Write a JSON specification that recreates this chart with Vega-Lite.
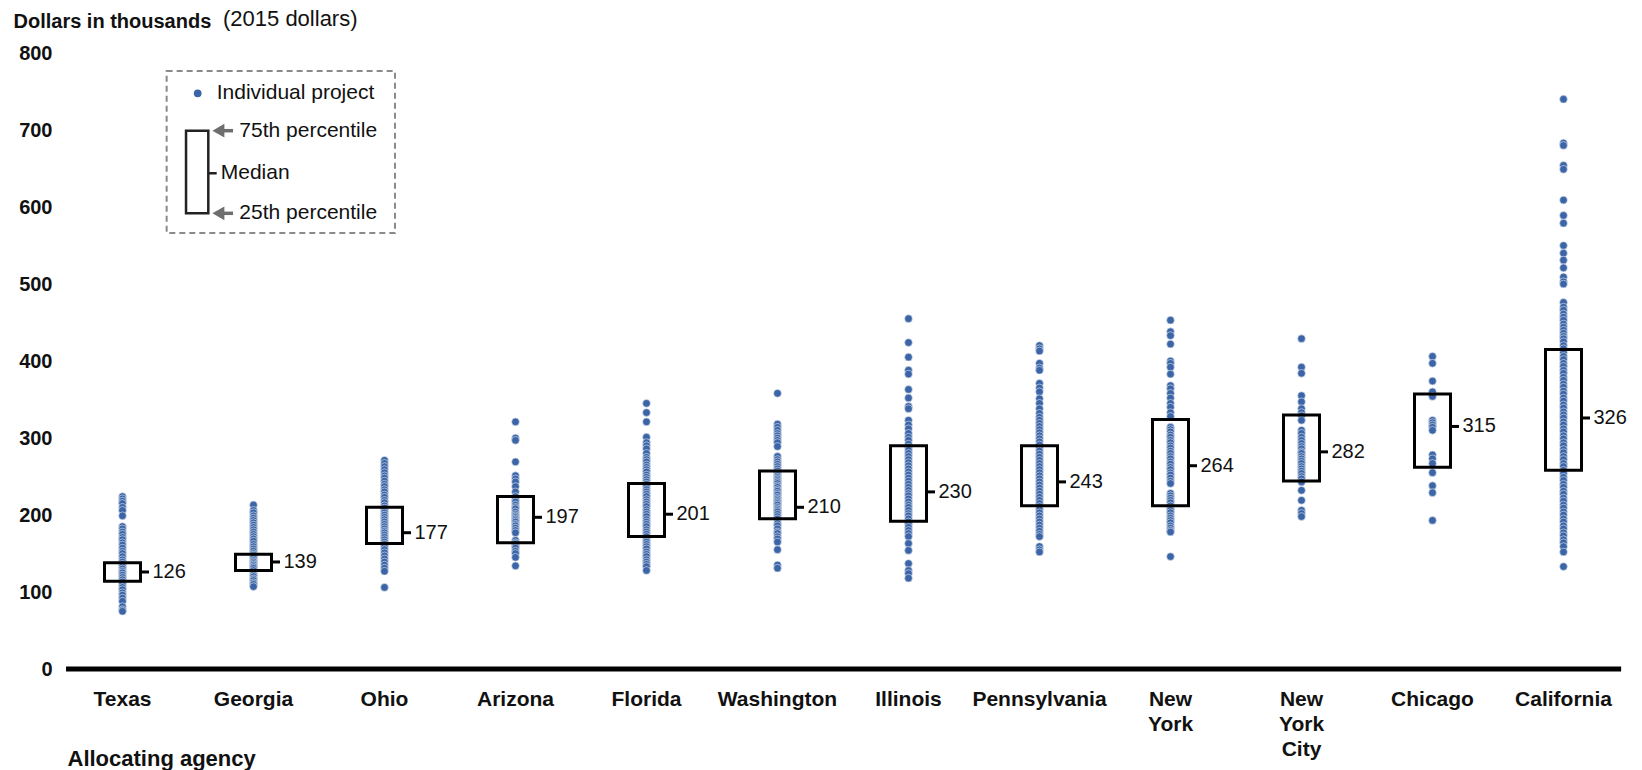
{
  "$schema": "https://vega.github.io/schema/vega-lite/v6.json",
  "width": 1572,
  "height": 616,
  "autosize": {"type": "none"},
  "padding": {"left": 57, "top": 53, "right": 13, "bottom": 101},
  "background": "white",
  "config": {"view": {"stroke": null}, "font": "Liberation Sans"},
  "title": {"text": "(2015 dollars)", "anchor": "start", "frame": "group", "dx": 166, "offset": -20, "fontSize": 22, "fontWeight": "normal", "color": "#111111", "font": "Liberation Sans"},
  "datasets": {
    "projects": [
      {"agency": "Texas", "value": 224}, {"agency": "Texas", "value": 221}, {"agency": "Texas", "value": 218}, {"agency": "Texas", "value": 215}, {"agency": "Texas", "value": 210}, {"agency": "Texas", "value": 206}, {"agency": "Texas", "value": 199}, {"agency": "Texas", "value": 185}, {"agency": "Texas", "value": 182}, {"agency": "Texas", "value": 178}, {"agency": "Texas", "value": 175}, {"agency": "Texas", "value": 171}, {"agency": "Texas", "value": 168}, {"agency": "Texas", "value": 164}, {"agency": "Texas", "value": 161}, {"agency": "Texas", "value": 157}, {"agency": "Texas", "value": 153}, {"agency": "Texas", "value": 150}, {"agency": "Texas", "value": 146}, {"agency": "Texas", "value": 142}, {"agency": "Texas", "value": 139}, {"agency": "Texas", "value": 136}, {"agency": "Texas", "value": 133}, {"agency": "Texas", "value": 130}, {"agency": "Texas", "value": 127}, {"agency": "Texas", "value": 125}, {"agency": "Texas", "value": 122}, {"agency": "Texas", "value": 119}, {"agency": "Texas", "value": 116}, {"agency": "Texas", "value": 113}, {"agency": "Texas", "value": 110}, {"agency": "Texas", "value": 106}, {"agency": "Texas", "value": 103}, {"agency": "Texas", "value": 99}, {"agency": "Texas", "value": 96}, {"agency": "Texas", "value": 92}, {"agency": "Texas", "value": 88}, {"agency": "Texas", "value": 81}, {"agency": "Texas", "value": 77}, {"agency": "Texas", "value": 75},
      {"agency": "Georgia", "value": 213}, {"agency": "Georgia", "value": 206}, {"agency": "Georgia", "value": 203}, {"agency": "Georgia", "value": 199}, {"agency": "Georgia", "value": 196}, {"agency": "Georgia", "value": 193}, {"agency": "Georgia", "value": 190}, {"agency": "Georgia", "value": 187}, {"agency": "Georgia", "value": 184}, {"agency": "Georgia", "value": 181}, {"agency": "Georgia", "value": 178}, {"agency": "Georgia", "value": 175}, {"agency": "Georgia", "value": 172}, {"agency": "Georgia", "value": 169}, {"agency": "Georgia", "value": 166}, {"agency": "Georgia", "value": 162}, {"agency": "Georgia", "value": 159}, {"agency": "Georgia", "value": 156}, {"agency": "Georgia", "value": 153}, {"agency": "Georgia", "value": 150}, {"agency": "Georgia", "value": 148}, {"agency": "Georgia", "value": 146}, {"agency": "Georgia", "value": 144}, {"agency": "Georgia", "value": 141}, {"agency": "Georgia", "value": 139}, {"agency": "Georgia", "value": 137}, {"agency": "Georgia", "value": 135}, {"agency": "Georgia", "value": 133}, {"agency": "Georgia", "value": 131}, {"agency": "Georgia", "value": 128}, {"agency": "Georgia", "value": 125}, {"agency": "Georgia", "value": 122}, {"agency": "Georgia", "value": 120}, {"agency": "Georgia", "value": 117}, {"agency": "Georgia", "value": 115}, {"agency": "Georgia", "value": 112}, {"agency": "Georgia", "value": 110}, {"agency": "Georgia", "value": 107},
      {"agency": "Ohio", "value": 271}, {"agency": "Ohio", "value": 267}, {"agency": "Ohio", "value": 263}, {"agency": "Ohio", "value": 259}, {"agency": "Ohio", "value": 255}, {"agency": "Ohio", "value": 251}, {"agency": "Ohio", "value": 248}, {"agency": "Ohio", "value": 244}, {"agency": "Ohio", "value": 240}, {"agency": "Ohio", "value": 237}, {"agency": "Ohio", "value": 233}, {"agency": "Ohio", "value": 230}, {"agency": "Ohio", "value": 226}, {"agency": "Ohio", "value": 223}, {"agency": "Ohio", "value": 219}, {"agency": "Ohio", "value": 216}, {"agency": "Ohio", "value": 212}, {"agency": "Ohio", "value": 209}, {"agency": "Ohio", "value": 206}, {"agency": "Ohio", "value": 203}, {"agency": "Ohio", "value": 200}, {"agency": "Ohio", "value": 197}, {"agency": "Ohio", "value": 194}, {"agency": "Ohio", "value": 191}, {"agency": "Ohio", "value": 188}, {"agency": "Ohio", "value": 185}, {"agency": "Ohio", "value": 182}, {"agency": "Ohio", "value": 179}, {"agency": "Ohio", "value": 177}, {"agency": "Ohio", "value": 174}, {"agency": "Ohio", "value": 171}, {"agency": "Ohio", "value": 168}, {"agency": "Ohio", "value": 165}, {"agency": "Ohio", "value": 162}, {"agency": "Ohio", "value": 159}, {"agency": "Ohio", "value": 155}, {"agency": "Ohio", "value": 151}, {"agency": "Ohio", "value": 147}, {"agency": "Ohio", "value": 143}, {"agency": "Ohio", "value": 139}, {"agency": "Ohio", "value": 135}, {"agency": "Ohio", "value": 131}, {"agency": "Ohio", "value": 127}, {"agency": "Ohio", "value": 106},
      {"agency": "Arizona", "value": 321}, {"agency": "Arizona", "value": 300}, {"agency": "Arizona", "value": 297}, {"agency": "Arizona", "value": 269}, {"agency": "Arizona", "value": 251}, {"agency": "Arizona", "value": 247}, {"agency": "Arizona", "value": 243}, {"agency": "Arizona", "value": 237}, {"agency": "Arizona", "value": 230}, {"agency": "Arizona", "value": 224}, {"agency": "Arizona", "value": 220}, {"agency": "Arizona", "value": 217}, {"agency": "Arizona", "value": 213}, {"agency": "Arizona", "value": 210}, {"agency": "Arizona", "value": 208}, {"agency": "Arizona", "value": 204}, {"agency": "Arizona", "value": 201}, {"agency": "Arizona", "value": 199}, {"agency": "Arizona", "value": 197}, {"agency": "Arizona", "value": 195}, {"agency": "Arizona", "value": 193}, {"agency": "Arizona", "value": 191}, {"agency": "Arizona", "value": 188}, {"agency": "Arizona", "value": 186}, {"agency": "Arizona", "value": 183}, {"agency": "Arizona", "value": 180}, {"agency": "Arizona", "value": 177}, {"agency": "Arizona", "value": 167}, {"agency": "Arizona", "value": 164}, {"agency": "Arizona", "value": 162}, {"agency": "Arizona", "value": 159}, {"agency": "Arizona", "value": 157}, {"agency": "Arizona", "value": 153}, {"agency": "Arizona", "value": 150}, {"agency": "Arizona", "value": 145}, {"agency": "Arizona", "value": 134},
      {"agency": "Florida", "value": 345}, {"agency": "Florida", "value": 333}, {"agency": "Florida", "value": 321}, {"agency": "Florida", "value": 301}, {"agency": "Florida", "value": 294}, {"agency": "Florida", "value": 290}, {"agency": "Florida", "value": 286}, {"agency": "Florida", "value": 280}, {"agency": "Florida", "value": 275}, {"agency": "Florida", "value": 272}, {"agency": "Florida", "value": 269}, {"agency": "Florida", "value": 265}, {"agency": "Florida", "value": 262}, {"agency": "Florida", "value": 259}, {"agency": "Florida", "value": 256}, {"agency": "Florida", "value": 252}, {"agency": "Florida", "value": 249}, {"agency": "Florida", "value": 246}, {"agency": "Florida", "value": 243}, {"agency": "Florida", "value": 240}, {"agency": "Florida", "value": 237}, {"agency": "Florida", "value": 233}, {"agency": "Florida", "value": 230}, {"agency": "Florida", "value": 227}, {"agency": "Florida", "value": 224}, {"agency": "Florida", "value": 220}, {"agency": "Florida", "value": 217}, {"agency": "Florida", "value": 214}, {"agency": "Florida", "value": 211}, {"agency": "Florida", "value": 207}, {"agency": "Florida", "value": 204}, {"agency": "Florida", "value": 201}, {"agency": "Florida", "value": 198}, {"agency": "Florida", "value": 194}, {"agency": "Florida", "value": 191}, {"agency": "Florida", "value": 188}, {"agency": "Florida", "value": 185}, {"agency": "Florida", "value": 181}, {"agency": "Florida", "value": 178}, {"agency": "Florida", "value": 175}, {"agency": "Florida", "value": 172}, {"agency": "Florida", "value": 168}, {"agency": "Florida", "value": 165}, {"agency": "Florida", "value": 162}, {"agency": "Florida", "value": 159}, {"agency": "Florida", "value": 156}, {"agency": "Florida", "value": 152}, {"agency": "Florida", "value": 149}, {"agency": "Florida", "value": 146}, {"agency": "Florida", "value": 142}, {"agency": "Florida", "value": 139}, {"agency": "Florida", "value": 136}, {"agency": "Florida", "value": 133}, {"agency": "Florida", "value": 128},
      {"agency": "Washington", "value": 358}, {"agency": "Washington", "value": 318}, {"agency": "Washington", "value": 314}, {"agency": "Washington", "value": 310}, {"agency": "Washington", "value": 306}, {"agency": "Washington", "value": 303}, {"agency": "Washington", "value": 300}, {"agency": "Washington", "value": 297}, {"agency": "Washington", "value": 294}, {"agency": "Washington", "value": 289}, {"agency": "Washington", "value": 276}, {"agency": "Washington", "value": 272}, {"agency": "Washington", "value": 269}, {"agency": "Washington", "value": 266}, {"agency": "Washington", "value": 263}, {"agency": "Washington", "value": 260}, {"agency": "Washington", "value": 257}, {"agency": "Washington", "value": 254}, {"agency": "Washington", "value": 251}, {"agency": "Washington", "value": 249}, {"agency": "Washington", "value": 247}, {"agency": "Washington", "value": 245}, {"agency": "Washington", "value": 243}, {"agency": "Washington", "value": 241}, {"agency": "Washington", "value": 238}, {"agency": "Washington", "value": 236}, {"agency": "Washington", "value": 233}, {"agency": "Washington", "value": 231}, {"agency": "Washington", "value": 228}, {"agency": "Washington", "value": 226}, {"agency": "Washington", "value": 223}, {"agency": "Washington", "value": 221}, {"agency": "Washington", "value": 219}, {"agency": "Washington", "value": 217}, {"agency": "Washington", "value": 215}, {"agency": "Washington", "value": 213}, {"agency": "Washington", "value": 210}, {"agency": "Washington", "value": 208}, {"agency": "Washington", "value": 206}, {"agency": "Washington", "value": 204}, {"agency": "Washington", "value": 201}, {"agency": "Washington", "value": 198}, {"agency": "Washington", "value": 195}, {"agency": "Washington", "value": 189}, {"agency": "Washington", "value": 186}, {"agency": "Washington", "value": 182}, {"agency": "Washington", "value": 178}, {"agency": "Washington", "value": 176}, {"agency": "Washington", "value": 172}, {"agency": "Washington", "value": 169}, {"agency": "Washington", "value": 165}, {"agency": "Washington", "value": 155}, {"agency": "Washington", "value": 135}, {"agency": "Washington", "value": 131},
      {"agency": "Illinois", "value": 455}, {"agency": "Illinois", "value": 424}, {"agency": "Illinois", "value": 405}, {"agency": "Illinois", "value": 388}, {"agency": "Illinois", "value": 383}, {"agency": "Illinois", "value": 363}, {"agency": "Illinois", "value": 352}, {"agency": "Illinois", "value": 341}, {"agency": "Illinois", "value": 338}, {"agency": "Illinois", "value": 323}, {"agency": "Illinois", "value": 317}, {"agency": "Illinois", "value": 312}, {"agency": "Illinois", "value": 306}, {"agency": "Illinois", "value": 301}, {"agency": "Illinois", "value": 297}, {"agency": "Illinois", "value": 292}, {"agency": "Illinois", "value": 288}, {"agency": "Illinois", "value": 284}, {"agency": "Illinois", "value": 280}, {"agency": "Illinois", "value": 276}, {"agency": "Illinois", "value": 272}, {"agency": "Illinois", "value": 268}, {"agency": "Illinois", "value": 264}, {"agency": "Illinois", "value": 260}, {"agency": "Illinois", "value": 256}, {"agency": "Illinois", "value": 252}, {"agency": "Illinois", "value": 248}, {"agency": "Illinois", "value": 244}, {"agency": "Illinois", "value": 240}, {"agency": "Illinois", "value": 236}, {"agency": "Illinois", "value": 232}, {"agency": "Illinois", "value": 228}, {"agency": "Illinois", "value": 225}, {"agency": "Illinois", "value": 221}, {"agency": "Illinois", "value": 217}, {"agency": "Illinois", "value": 213}, {"agency": "Illinois", "value": 210}, {"agency": "Illinois", "value": 206}, {"agency": "Illinois", "value": 202}, {"agency": "Illinois", "value": 199}, {"agency": "Illinois", "value": 195}, {"agency": "Illinois", "value": 191}, {"agency": "Illinois", "value": 188}, {"agency": "Illinois", "value": 184}, {"agency": "Illinois", "value": 180}, {"agency": "Illinois", "value": 176}, {"agency": "Illinois", "value": 172}, {"agency": "Illinois", "value": 163}, {"agency": "Illinois", "value": 154}, {"agency": "Illinois", "value": 137}, {"agency": "Illinois", "value": 128}, {"agency": "Illinois", "value": 124}, {"agency": "Illinois", "value": 118},
      {"agency": "Pennsylvania", "value": 420}, {"agency": "Pennsylvania", "value": 416}, {"agency": "Pennsylvania", "value": 413}, {"agency": "Pennsylvania", "value": 397}, {"agency": "Pennsylvania", "value": 391}, {"agency": "Pennsylvania", "value": 388}, {"agency": "Pennsylvania", "value": 371}, {"agency": "Pennsylvania", "value": 365}, {"agency": "Pennsylvania", "value": 360}, {"agency": "Pennsylvania", "value": 351}, {"agency": "Pennsylvania", "value": 345}, {"agency": "Pennsylvania", "value": 338}, {"agency": "Pennsylvania", "value": 332}, {"agency": "Pennsylvania", "value": 327}, {"agency": "Pennsylvania", "value": 323}, {"agency": "Pennsylvania", "value": 319}, {"agency": "Pennsylvania", "value": 315}, {"agency": "Pennsylvania", "value": 311}, {"agency": "Pennsylvania", "value": 307}, {"agency": "Pennsylvania", "value": 303}, {"agency": "Pennsylvania", "value": 299}, {"agency": "Pennsylvania", "value": 295}, {"agency": "Pennsylvania", "value": 291}, {"agency": "Pennsylvania", "value": 287}, {"agency": "Pennsylvania", "value": 283}, {"agency": "Pennsylvania", "value": 279}, {"agency": "Pennsylvania", "value": 275}, {"agency": "Pennsylvania", "value": 271}, {"agency": "Pennsylvania", "value": 267}, {"agency": "Pennsylvania", "value": 263}, {"agency": "Pennsylvania", "value": 259}, {"agency": "Pennsylvania", "value": 255}, {"agency": "Pennsylvania", "value": 251}, {"agency": "Pennsylvania", "value": 247}, {"agency": "Pennsylvania", "value": 243}, {"agency": "Pennsylvania", "value": 239}, {"agency": "Pennsylvania", "value": 235}, {"agency": "Pennsylvania", "value": 231}, {"agency": "Pennsylvania", "value": 227}, {"agency": "Pennsylvania", "value": 223}, {"agency": "Pennsylvania", "value": 219}, {"agency": "Pennsylvania", "value": 215}, {"agency": "Pennsylvania", "value": 211}, {"agency": "Pennsylvania", "value": 207}, {"agency": "Pennsylvania", "value": 203}, {"agency": "Pennsylvania", "value": 199}, {"agency": "Pennsylvania", "value": 195}, {"agency": "Pennsylvania", "value": 191}, {"agency": "Pennsylvania", "value": 187}, {"agency": "Pennsylvania", "value": 183}, {"agency": "Pennsylvania", "value": 179}, {"agency": "Pennsylvania", "value": 175}, {"agency": "Pennsylvania", "value": 172}, {"agency": "Pennsylvania", "value": 159}, {"agency": "Pennsylvania", "value": 155}, {"agency": "Pennsylvania", "value": 152},
      {"agency": "New York", "value": 453}, {"agency": "New York", "value": 438}, {"agency": "New York", "value": 433}, {"agency": "New York", "value": 422}, {"agency": "New York", "value": 400}, {"agency": "New York", "value": 397}, {"agency": "New York", "value": 392}, {"agency": "New York", "value": 383}, {"agency": "New York", "value": 368}, {"agency": "New York", "value": 364}, {"agency": "New York", "value": 358}, {"agency": "New York", "value": 352}, {"agency": "New York", "value": 345}, {"agency": "New York", "value": 340}, {"agency": "New York", "value": 333}, {"agency": "New York", "value": 328}, {"agency": "New York", "value": 314}, {"agency": "New York", "value": 311}, {"agency": "New York", "value": 308}, {"agency": "New York", "value": 304}, {"agency": "New York", "value": 301}, {"agency": "New York", "value": 297}, {"agency": "New York", "value": 294}, {"agency": "New York", "value": 290}, {"agency": "New York", "value": 287}, {"agency": "New York", "value": 283}, {"agency": "New York", "value": 280}, {"agency": "New York", "value": 276}, {"agency": "New York", "value": 273}, {"agency": "New York", "value": 269}, {"agency": "New York", "value": 266}, {"agency": "New York", "value": 262}, {"agency": "New York", "value": 259}, {"agency": "New York", "value": 255}, {"agency": "New York", "value": 252}, {"agency": "New York", "value": 248}, {"agency": "New York", "value": 244}, {"agency": "New York", "value": 241}, {"agency": "New York", "value": 228}, {"agency": "New York", "value": 225}, {"agency": "New York", "value": 222}, {"agency": "New York", "value": 219}, {"agency": "New York", "value": 216}, {"agency": "New York", "value": 212}, {"agency": "New York", "value": 209}, {"agency": "New York", "value": 206}, {"agency": "New York", "value": 203}, {"agency": "New York", "value": 199}, {"agency": "New York", "value": 196}, {"agency": "New York", "value": 193}, {"agency": "New York", "value": 190}, {"agency": "New York", "value": 186}, {"agency": "New York", "value": 183}, {"agency": "New York", "value": 180}, {"agency": "New York", "value": 178}, {"agency": "New York", "value": 146},
      {"agency": "New York City", "value": 429}, {"agency": "New York City", "value": 392}, {"agency": "New York City", "value": 384}, {"agency": "New York City", "value": 355}, {"agency": "New York City", "value": 347}, {"agency": "New York City", "value": 338}, {"agency": "New York City", "value": 333}, {"agency": "New York City", "value": 329}, {"agency": "New York City", "value": 323}, {"agency": "New York City", "value": 310}, {"agency": "New York City", "value": 306}, {"agency": "New York City", "value": 301}, {"agency": "New York City", "value": 297}, {"agency": "New York City", "value": 293}, {"agency": "New York City", "value": 289}, {"agency": "New York City", "value": 286}, {"agency": "New York City", "value": 282}, {"agency": "New York City", "value": 280}, {"agency": "New York City", "value": 276}, {"agency": "New York City", "value": 273}, {"agency": "New York City", "value": 270}, {"agency": "New York City", "value": 267}, {"agency": "New York City", "value": 263}, {"agency": "New York City", "value": 260}, {"agency": "New York City", "value": 257}, {"agency": "New York City", "value": 254}, {"agency": "New York City", "value": 250}, {"agency": "New York City", "value": 247}, {"agency": "New York City", "value": 243}, {"agency": "New York City", "value": 232}, {"agency": "New York City", "value": 219}, {"agency": "New York City", "value": 206}, {"agency": "New York City", "value": 202}, {"agency": "New York City", "value": 198},
      {"agency": "Chicago", "value": 406}, {"agency": "Chicago", "value": 397}, {"agency": "Chicago", "value": 374}, {"agency": "Chicago", "value": 360}, {"agency": "Chicago", "value": 354}, {"agency": "Chicago", "value": 323}, {"agency": "Chicago", "value": 320}, {"agency": "Chicago", "value": 317}, {"agency": "Chicago", "value": 314}, {"agency": "Chicago", "value": 310}, {"agency": "Chicago", "value": 278}, {"agency": "Chicago", "value": 273}, {"agency": "Chicago", "value": 267}, {"agency": "Chicago", "value": 255}, {"agency": "Chicago", "value": 238}, {"agency": "Chicago", "value": 229}, {"agency": "Chicago", "value": 193},
      {"agency": "California", "value": 740}, {"agency": "California", "value": 683}, {"agency": "California", "value": 680}, {"agency": "California", "value": 654}, {"agency": "California", "value": 649}, {"agency": "California", "value": 609}, {"agency": "California", "value": 589}, {"agency": "California", "value": 579}, {"agency": "California", "value": 550}, {"agency": "California", "value": 540}, {"agency": "California", "value": 531}, {"agency": "California", "value": 521}, {"agency": "California", "value": 509}, {"agency": "California", "value": 503}, {"agency": "California", "value": 500}, {"agency": "California", "value": 476}, {"agency": "California", "value": 470}, {"agency": "California", "value": 466}, {"agency": "California", "value": 461}, {"agency": "California", "value": 457}, {"agency": "California", "value": 453}, {"agency": "California", "value": 448}, {"agency": "California", "value": 444}, {"agency": "California", "value": 440}, {"agency": "California", "value": 436}, {"agency": "California", "value": 432}, {"agency": "California", "value": 429}, {"agency": "California", "value": 425}, {"agency": "California", "value": 420}, {"agency": "California", "value": 416}, {"agency": "California", "value": 411}, {"agency": "California", "value": 406}, {"agency": "California", "value": 402}, {"agency": "California", "value": 397}, {"agency": "California", "value": 393}, {"agency": "California", "value": 388}, {"agency": "California", "value": 384}, {"agency": "California", "value": 379}, {"agency": "California", "value": 375}, {"agency": "California", "value": 370}, {"agency": "California", "value": 366}, {"agency": "California", "value": 361}, {"agency": "California", "value": 357}, {"agency": "California", "value": 352}, {"agency": "California", "value": 348}, {"agency": "California", "value": 343}, {"agency": "California", "value": 339}, {"agency": "California", "value": 334}, {"agency": "California", "value": 330}, {"agency": "California", "value": 326}, {"agency": "California", "value": 321}, {"agency": "California", "value": 317}, {"agency": "California", "value": 312}, {"agency": "California", "value": 308}, {"agency": "California", "value": 303}, {"agency": "California", "value": 299}, {"agency": "California", "value": 294}, {"agency": "California", "value": 290}, {"agency": "California", "value": 285}, {"agency": "California", "value": 281}, {"agency": "California", "value": 276}, {"agency": "California", "value": 272}, {"agency": "California", "value": 267}, {"agency": "California", "value": 263}, {"agency": "California", "value": 258}, {"agency": "California", "value": 254}, {"agency": "California", "value": 249}, {"agency": "California", "value": 245}, {"agency": "California", "value": 240}, {"agency": "California", "value": 236}, {"agency": "California", "value": 231}, {"agency": "California", "value": 227}, {"agency": "California", "value": 222}, {"agency": "California", "value": 218}, {"agency": "California", "value": 213}, {"agency": "California", "value": 209}, {"agency": "California", "value": 204}, {"agency": "California", "value": 200}, {"agency": "California", "value": 195}, {"agency": "California", "value": 191}, {"agency": "California", "value": 186}, {"agency": "California", "value": 182}, {"agency": "California", "value": 177}, {"agency": "California", "value": 173}, {"agency": "California", "value": 168}, {"agency": "California", "value": 164}, {"agency": "California", "value": 159}, {"agency": "California", "value": 152}, {"agency": "California", "value": 133}
    ],
    "summary": [
      {"agency": "Texas", "q1": 114, "median": 126, "q3": 138},
      {"agency": "Georgia", "q1": 128, "median": 139, "q3": 149},
      {"agency": "Ohio", "q1": 163, "median": 177, "q3": 210},
      {"agency": "Arizona", "q1": 164, "median": 197, "q3": 224},
      {"agency": "Florida", "q1": 172, "median": 201, "q3": 241},
      {"agency": "Washington", "q1": 195, "median": 210, "q3": 257},
      {"agency": "Illinois", "q1": 192, "median": 230, "q3": 290},
      {"agency": "Pennsylvania", "q1": 212, "median": 243, "q3": 290},
      {"agency": "New York", "q1": 212, "median": 264, "q3": 324},
      {"agency": "New York City", "q1": 244, "median": 282, "q3": 330},
      {"agency": "Chicago", "q1": 262, "median": 315, "q3": 357},
      {"agency": "California", "q1": 258, "median": 326, "q3": 415}
    ],
    "legendFrame": [{"x": 0.837, "x2": 2.58, "y": 776.6, "y2": 566.2}],
    "legendBox": [{"x": 0.985, "x2": 1.155, "y": 591.8, "y2": 699.1}],
    "legendTick": [{"x": 1.155, "x2": 1.219, "y": 643.8}],
    "legendDot": [{"x": 1.074, "y": 747.7}],
    "legendArrowHeads": [{"x": 1.232, "y": 699.1}, {"x": 1.232, "y": 591.8}],
    "legendArrowStems": [{"x": 1.26, "x2": 1.344, "y": 699.1}, {"x": 1.26, "x2": 1.344, "y": 591.8}],
    "legendText": [
      {"x": 1.219, "y": 747.7, "label": "Individual project"},
      {"x": 1.392, "y": 699.1, "label": "75th percentile"},
      {"x": 1.25, "y": 643.8, "label": "Median"},
      {"x": 1.392, "y": 591.8, "label": "25th percentile"}
    ],
    "baseline": [{"x": 0.069, "x2": 11.94, "y": 0}]
  },
  "layer": [
    {
      "layer": [
        {
          "data": {"name": "projects"},
          "mark": {"type": "circle", "size": 60, "fill": "#3b65a6", "opacity": 1, "stroke": "#e4eaf4", "strokeWidth": 0.6},
          "encoding": {
            "x": {
              "field": "agency", "type": "nominal",
              "sort": ["Texas", "Georgia", "Ohio", "Arizona", "Florida", "Washington", "Illinois", "Pennsylvania", "New York", "New York City", "Chicago", "California"],
              "scale": {"paddingInner": 0, "paddingOuter": 0},
              "axis": {
                "title": "Allocating agency", "titleX": 10, "titleY": 96, "titleAlign": "left", "titleAnchor": "start", "titleBaseline": "alphabetic",
                "titleFontSize": 22, "titleFontWeight": "bold", "titleColor": "#111111", "titleFont": "Liberation Sans",
                "labelFontSize": 21, "labelFontWeight": "bold", "labelColor": "#111111", "labelFont": "Liberation Sans",
                "labelAngle": 0, "labelPadding": 19, "labelLineHeight": 25, "labelBaseline": "top", "labelOverlap": false, "labelBound": false, "labelFlush": false,
                "ticks": false, "tickSize": 0, "domain": false, "grid": false,
                "labelExpr": "datum.label == 'New York' ? ['New', 'York'] : datum.label == 'New York City' ? ['New', 'York', 'City'] : datum.label"
              }
            },
            "y": {
              "field": "value", "type": "quantitative",
              "scale": {"domain": [0, 800], "nice": false, "zero": true},
              "axis": {
                "values": [0, 100, 200, 300, 400, 500, 600, 700, 800],
                "title": "Dollars in thousands", "titleAngle": 0, "titleAlign": "left", "titleAnchor": "start", "titleBaseline": "alphabetic",
                "titleX": -44, "titleY": -26, "titleFontSize": 20, "titleFontWeight": "bold", "titleColor": "#111111", "titleFont": "Liberation Sans",
                "labelFontSize": 20, "labelFontWeight": "bold", "labelColor": "#111111", "labelFont": "Liberation Sans", "labelPadding": 5,
                "ticks": false, "tickSize": 0, "domain": false, "grid": false
              }
            }
          }
        },
        {
          "data": {"name": "summary"},
          "mark": {"type": "bar", "width": 36, "fill": "transparent", "stroke": "#000000", "strokeWidth": 3},
          "encoding": {
            "x": {"field": "agency", "type": "nominal", "sort": ["Texas", "Georgia", "Ohio", "Arizona", "Florida", "Washington", "Illinois", "Pennsylvania", "New York", "New York City", "Chicago", "California"]},
            "y": {"field": "q1", "type": "quantitative"},
            "y2": {"field": "q3"}
          }
        },
        {
          "data": {"name": "summary"},
          "mark": {"type": "tick", "orient": "horizontal", "size": 9, "thickness": 3, "xOffset": 22, "color": "#000000", "opacity": 1},
          "encoding": {
            "x": {"field": "agency", "type": "nominal", "sort": ["Texas", "Georgia", "Ohio", "Arizona", "Florida", "Washington", "Illinois", "Pennsylvania", "New York", "New York City", "Chicago", "California"]},
            "y": {"field": "median", "type": "quantitative"}
          }
        },
        {
          "data": {"name": "summary"},
          "mark": {"type": "text", "align": "left", "baseline": "middle", "dx": 30, "fontSize": 20, "color": "#111111", "font": "Liberation Sans"},
          "encoding": {
            "x": {"field": "agency", "type": "nominal", "sort": ["Texas", "Georgia", "Ohio", "Arizona", "Florida", "Washington", "Illinois", "Pennsylvania", "New York", "New York City", "Chicago", "California"]},
            "y": {"field": "median", "type": "quantitative"},
            "text": {"field": "median", "type": "quantitative"}
          }
        }
      ]
    },
    {
      "layer": [
        {
          "data": {"name": "baseline"},
          "mark": {"type": "rule", "stroke": "#000000", "strokeWidth": 5},
          "encoding": {
            "x": {"field": "x", "type": "quantitative", "scale": {"domain": [0, 12], "nice": false, "zero": false}, "axis": null},
            "x2": {"field": "x2"},
            "y": {"field": "y", "type": "quantitative"}
          }
        },
        {
          "data": {"name": "legendFrame"},
          "mark": {"type": "rect", "fill": "transparent", "stroke": "#8a8a8a", "strokeWidth": 2, "strokeDash": [6, 4]},
          "encoding": {
            "x": {"field": "x", "type": "quantitative", "axis": null},
            "x2": {"field": "x2"},
            "y": {"field": "y", "type": "quantitative"},
            "y2": {"field": "y2"}
          }
        },
        {
          "data": {"name": "legendDot"},
          "mark": {"type": "circle", "size": 60, "fill": "#3b65a6", "opacity": 1},
          "encoding": {
            "x": {"field": "x", "type": "quantitative", "axis": null},
            "y": {"field": "y", "type": "quantitative"}
          }
        },
        {
          "data": {"name": "legendBox"},
          "mark": {"type": "rect", "fill": "transparent", "stroke": "#222222", "strokeWidth": 2.5},
          "encoding": {
            "x": {"field": "x", "type": "quantitative", "axis": null},
            "x2": {"field": "x2"},
            "y": {"field": "y", "type": "quantitative"},
            "y2": {"field": "y2"}
          }
        },
        {
          "data": {"name": "legendTick"},
          "mark": {"type": "rule", "stroke": "#222222", "strokeWidth": 2.5},
          "encoding": {
            "x": {"field": "x", "type": "quantitative", "axis": null},
            "x2": {"field": "x2"},
            "y": {"field": "y", "type": "quantitative"}
          }
        },
        {
          "data": {"name": "legendArrowStems"},
          "mark": {"type": "rule", "stroke": "#6e6e6e", "strokeWidth": 3.5},
          "encoding": {
            "x": {"field": "x", "type": "quantitative", "axis": null},
            "x2": {"field": "x2"},
            "y": {"field": "y", "type": "quantitative"}
          }
        },
        {
          "data": {"name": "legendArrowHeads"},
          "mark": {"type": "point", "shape": "triangle-left", "size": 190, "filled": true, "fill": "#6e6e6e", "opacity": 1},
          "encoding": {
            "x": {"field": "x", "type": "quantitative", "axis": null},
            "y": {"field": "y", "type": "quantitative"}
          }
        },
        {
          "data": {"name": "legendText"},
          "mark": {"type": "text", "align": "left", "baseline": "middle", "fontSize": 21, "color": "#111111", "font": "Liberation Sans"},
          "encoding": {
            "x": {"field": "x", "type": "quantitative", "axis": null},
            "y": {"field": "y", "type": "quantitative"},
            "text": {"field": "label", "type": "nominal"}
          }
        }
      ]
    }
  ],
  "resolve": {"scale": {"x": "independent"}}
}
